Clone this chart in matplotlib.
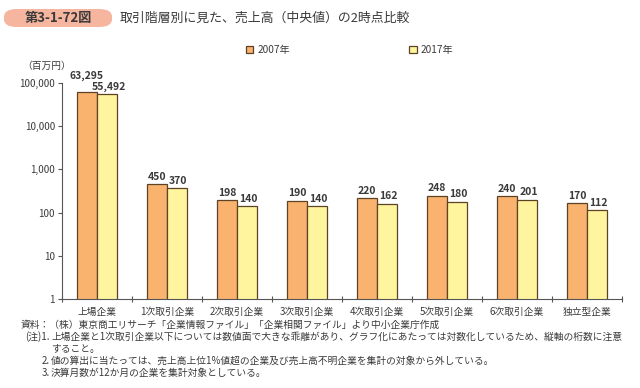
import numpy as np
import matplotlib.pyplot as plt
from matplotlib.patches import FancyBboxPatch

plt.rcParams['font.family'] = ['Noto Sans CJK JP', 'DejaVu Sans']

# datos
categorias = ['上場企業', '1次取引企業', '2次取引企業', '3次取引企業',
              '4次取引企業', '5次取引企業', '6次取引企業', '独立型企業']
ventas_2007 = [63295, 450, 198, 190, 220, 248, 240, 170]
ventas_2017 = [55492, 370, 140, 140, 162, 180, 201, 112]
etiquetas = ['2007年', '2017年']
yticks = [1, 10, 100, 1000, 10000, 100000]

titulo = '取引階層別に見た、売上高（中央値）の2時点比較'
figura_no = '第3-1-72図'
unidad = '（百万円）'
fuente = '資料：（株）東京商工リサーチ「企業情報ファイル」「企業相関ファイル」より中小企業庁作成'
notas = [('(注)1.', '上場企業と1次取引企業以下については数値面で大きな乖離があり、グラフ化にあたっては対数化しているため、縦軸の桁数に注意'),
         ('', 'すること。'),
         ('2.', '値の算出に当たっては、売上高上位1%値超の企業及び売上高不明企業を集計の対象から外している。'),
         ('3.', '決算月数が12か月の企業を集計対象としている。')]

W, H = 640, 388
c_naranja = '#F9B36E'
c_amarillo = '#FFF59E'
c_borde = '#5E4225'
c_texto = '#3A3A3A'

fig = plt.figure(figsize=(W/100, H/100), dpi=100)
ax = fig.add_axes([62/W, 1 - 299/H, 560/W, 216/H])

x = np.arange(len(categorias))
ancho = 20/70
b1 = ax.bar(x - ancho/2, ventas_2007, ancho, color=c_naranja, edgecolor=c_borde,
            linewidth=0.9, label=etiquetas[0])
b2 = ax.bar(x + ancho/2, ventas_2017, ancho, color=c_amarillo, edgecolor=c_borde,
            linewidth=0.9, label=etiquetas[1])

ax.set_yscale('log')
ax.set_ylim(1, 100000)
ax.set_xlim(-0.5, len(categorias) - 0.5)
ax.set_yticks(yticks)
ax.set_yticklabels([f'{v:,}' for v in yticks], fontsize=7, color=c_texto)
ax.minorticks_off()
ax.tick_params(axis='y', length=3, width=0.8, color='#555555', pad=2)

# ticks de x entre categorias
ax.set_xticks(np.arange(-0.5, len(categorias)), minor=False)
ax.set_xticklabels([])
ax.tick_params(axis='x', direction='inout', length=5, width=0.8, color='#555555')
for i, c in enumerate(categorias):
    ax.text(i, -0.035, c, transform=ax.get_xaxis_transform(), ha='center', va='top',
            fontsize=7, color=c_texto)

for s in ['top', 'right']:
    ax.spines[s].set_visible(False)
for s in ['left', 'bottom']:
    ax.spines[s].set_color('#555555')
    ax.spines[s].set_linewidth(0.8)

# etiquetas de valores
for i in range(len(categorias)):
    extra = 6 if ventas_2007[i] > 10000 else 0
    ax.annotate(f'{ventas_2007[i]:,}', (x[i] - ancho/2, ventas_2007[i]),
                xytext=(0, 1.5 + extra), textcoords='offset points', ha='center', va='bottom',
                fontsize=7.5, fontweight='bold', color=c_texto, annotation_clip=False)
    ax.annotate(f'{ventas_2017[i]:,}', (x[i] + ancho/2, ventas_2017[i]),
                xytext=(1, 1.5), textcoords='offset points', ha='center', va='bottom',
                fontsize=7.5, fontweight='bold', color=c_texto, annotation_clip=False)

# titulo con recuadro
caja = FancyBboxPatch((4/W, 1 - 27/H), 108/W, 18/H, boxstyle='round,pad=0,rounding_size=0.02',
                      transform=fig.transFigure, facecolor='#F6B59E', edgecolor='none')
fig.patches.append(caja)
fig.text(58/W, 1 - 18/H, figura_no, ha='center', va='center', fontsize=9.5,
         fontweight='bold', color=c_texto)
fig.text(120/W, 1 - 18/H, titulo, ha='left', va='center', fontsize=9.3, color=c_texto)

# leyenda
fig.legend(handles=[b1, b2], labels=etiquetas, loc='center left',
           bbox_to_anchor=(246/W, 1 - 50/H), ncol=2, frameon=False, fontsize=7.3,
           handlelength=0.7, handleheight=0.7, handletextpad=0.4,
           columnspacing=11.8, borderpad=0, borderaxespad=0, labelcolor=c_texto)

fig.text(22/W, 1 - 66/H, unidad, ha='left', va='center', fontsize=7, color=c_texto)

# notas
fig.text(21/W, 1 - 325/H, fuente, ha='left', va='center', fontsize=7, color=c_texto)
y0 = 337
for k, (num, txt) in enumerate(notas):
    yy = 1 - (y0 + 12*k)/H
    if num:
        fig.text(50/W, yy, num, ha='right', va='center', fontsize=7, color=c_texto)
    fig.text(51/W, yy, txt, ha='left', va='center', fontsize=7, color=c_texto)

fig.savefig('out.png', dpi=100)
